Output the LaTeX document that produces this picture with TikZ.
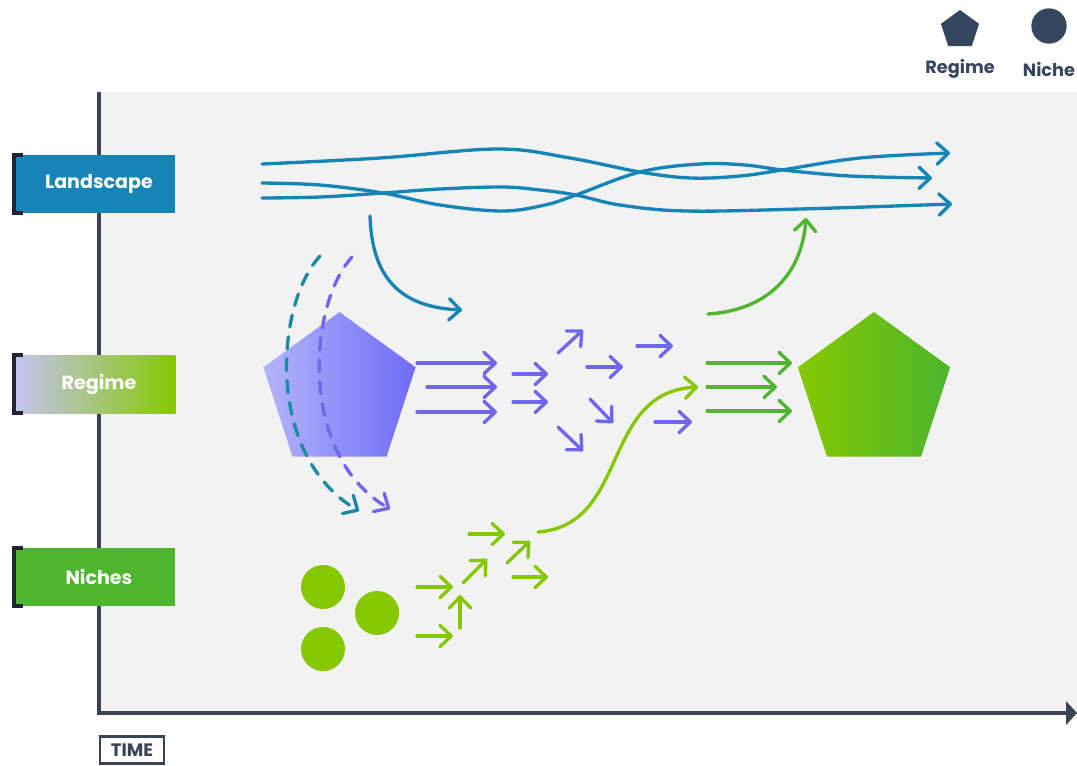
\documentclass[tikz,border=0pt]{standalone}
\usepackage{fontspec}
\setmainfont{Poppins}
\usetikzlibrary{arrows.meta,shapes.geometric}
\definecolor{cpanel}{HTML}{F2F2F2}
\definecolor{caxis}{HTML}{3B4457}
\definecolor{cland}{HTML}{1685B5}
\definecolor{cteal}{HTML}{1B8AA5}
\definecolor{cpurp}{HTML}{7066EE}
\definecolor{clight}{HTML}{86C800}
\definecolor{cdark}{HTML}{4DB52E}
\definecolor{clav}{HTML}{C4C4F2}
\definecolor{cpentL}{HTML}{B4B4FA}
\definecolor{cpentR}{HTML}{6E6CF6}
\definecolor{cleg}{HTML}{344660}
\definecolor{cbrk}{HTML}{1F2430}
\tikzset{
  tip/.style={-{Straight Barb[length=8.5pt,width=16pt,line join=round,line cap=round]}},
  flow/.style={line width=2.5pt, line cap=round, tip},
  dashflow/.style={flow, dash pattern=on 9pt off 7.5pt},
  labelbox/.style={minimum width=120.75pt, minimum height=43.5pt, inner sep=0pt, anchor=west},
  labeltext/.style={text=white, font=\bfseries\fontsize{14.3}{16}\selectfont},
  bracket/.style={draw=cbrk, line width=2.5pt},
  pent/.style={regular polygon, regular polygon sides=5, minimum size=120pt, inner sep=0pt, draw=none},
  niche/.style={circle, fill=clight, minimum size=33pt, inner sep=0pt, draw=none},
}
\begin{document}
\begin{tikzpicture}[x=0.75pt,y=-0.75pt]
\useasboundingbox (0,0) rectangle (1077,765);
% panel
\fill[cpanel] (99,92) rectangle (1077,713);
% axes
\coordinate (origin) at (99,713);
\coordinate (ytop) at (99,92);
\coordinate (xend) at (1066,713);
\draw[caxis, line width=2.5pt] (ytop) -- (origin) -- (xend);
\fill[caxis] (1066,701) -- (1077,713) -- (1066,725) -- cycle;
\node[draw=caxis, line width=2pt, fill=white, minimum width=48pt, minimum height=20.5pt, inner sep=0pt,
  text=caxis, font=\bfseries\fontsize{13.5}{14}\selectfont] (time) at (132,750) {TIME};

% legend
\node[regular polygon, regular polygon sides=5, minimum size=30pt, inner sep=0pt, fill=cleg] (legpent) at (960,30) {};
\node[circle, fill=cleg, minimum size=26.5pt, inner sep=0pt] (legcirc) at (1049,26) {};
\node[text=cleg, font=\bfseries\fontsize{13.3}{15}\selectfont] (legreg) at (960,69) {Regime};
\node[text=cleg, font=\bfseries\fontsize{13.3}{15}\selectfont] (legnic) at (1049,69) {Niche};

% row labels
\node[labelbox, fill=cland] (landbox) at (14,184) {};
\node[labeltext] (landtxt) at (99,184) {Landscape};
\draw[bracket] (23,155) -- (14,155) -- (14,213) -- (23,213);
\node[labelbox, left color=clav, right color=clight] (regbox) at (14,384) {};
\node[labeltext] (regtxt) at (99,384) {Regime};
\draw[bracket] (23,355) -- (14,355) -- (14,413) -- (23,413);
\node[labelbox, fill=cdark] (nichbox) at (14,577) {};
\node[labeltext] (nichtxt) at (99,577) {Niches};
\draw[bracket] (23,548) -- (14,548) -- (14,606) -- (23,606);

% pentagons
\node[pent, left color=cpentL, right color=cpentR] (regA) at (339.5,392) {};
\node[pent, left color=clight, right color=cdark] (regB) at (874,392) {};

% niches
\node[niche] (n1) at (323,587) {};
\node[niche] (n2) at (377,613) {};
\node[niche] (n3) at (323,649) {};

% landscape streams
\draw[flow, cland] plot[smooth, tension=0.6] coordinates {(262,164) (380,158) (498,149) (570,158) (640,172) (691,178) (740,176) (782,170) (860,158) (950,153)};
\draw[flow, cland] plot[smooth, tension=0.6] coordinates {(262,183) (320,185) (383,193) (440,205) (502,211) (545,205) (576,195) (640,172) (700,164) (745,165) (783,170) (850,176) (932,178)};
\draw[flow, cland] plot[smooth, tension=0.6] coordinates {(262,198) (320,197) (383,193) (440,189) (502,187) (540,190) (576,195) (620,205) (686,211) (800,209) (952,204)};

% landscape pressure onto regime
\coordinate (lp0) at (370,216);
\coordinate (lp1) at (462,310);
\draw[flow, cland] (lp0) .. controls (372,278) and (400,307) .. (lp1);

% dashed
\coordinate (dt0) at (320,256);
\coordinate (dt1) at (359,511);
\draw[dashflow, cteal] (dt0) .. controls (275,305) and (265,455) .. (dt1);
\coordinate (dp0) at (352,257);
\coordinate (dp1) at (390,509);
\draw[dashflow, cpurp] (dp0) .. controls (308,305) and (298,455) .. (dp1);

% purple arrows from regime
\draw[flow, cpurp] (417,363) -- (497,363);
\draw[flow, cpurp] (427,387) -- (497,387);
\draw[flow, cpurp] (417,412) -- (497,412);
\draw[flow, cpurp] (513,374) -- (548,374);
\draw[flow, cpurp] (513,402) -- (548,402);
\draw[flow, cpurp] (558,353) -- (583,330);
\draw[flow, cpurp] (587,367) -- (623,367);
\draw[flow, cpurp] (590,399) -- (613,423);
\draw[flow, cpurp] (558,427) -- (583,451);
\draw[flow, cpurp] (637,346) -- (673,346);
\draw[flow, cpurp] (655,422) -- (692,422);

% niche arrows
\draw[flow, clight] (417,587) -- (453,587);
\draw[flow, clight] (417,636) -- (453,636);
\draw[flow, clight] (460,628) -- (460,595);
\draw[flow, clight] (463,583) -- (487,559);
\draw[flow, clight] (469,534) -- (505,534);
\draw[flow, clight] (507,563) -- (530,541);
\draw[flow, clight] (513,577) -- (548,577);

% niche breakthrough
\coordinate (nb0) at (538,532);
\coordinate (nb1) at (698,387);
\draw[flow, clight] (nb0) .. controls (630,525) and (600,392) .. (nb1);

% new regime arrows
\draw[flow, cdark] (707,363) -- (792,363);
\draw[flow, cdark] (707,387) -- (777,387);
\draw[flow, cdark] (707,411) -- (792,411);

% regime back to landscape
\coordinate (rl0) at (708,314);
\coordinate (rl1) at (806,218);
\draw[flow, cdark] (rl0) .. controls (770,310) and (802,272) .. (rl1);
\end{tikzpicture}
\end{document}
